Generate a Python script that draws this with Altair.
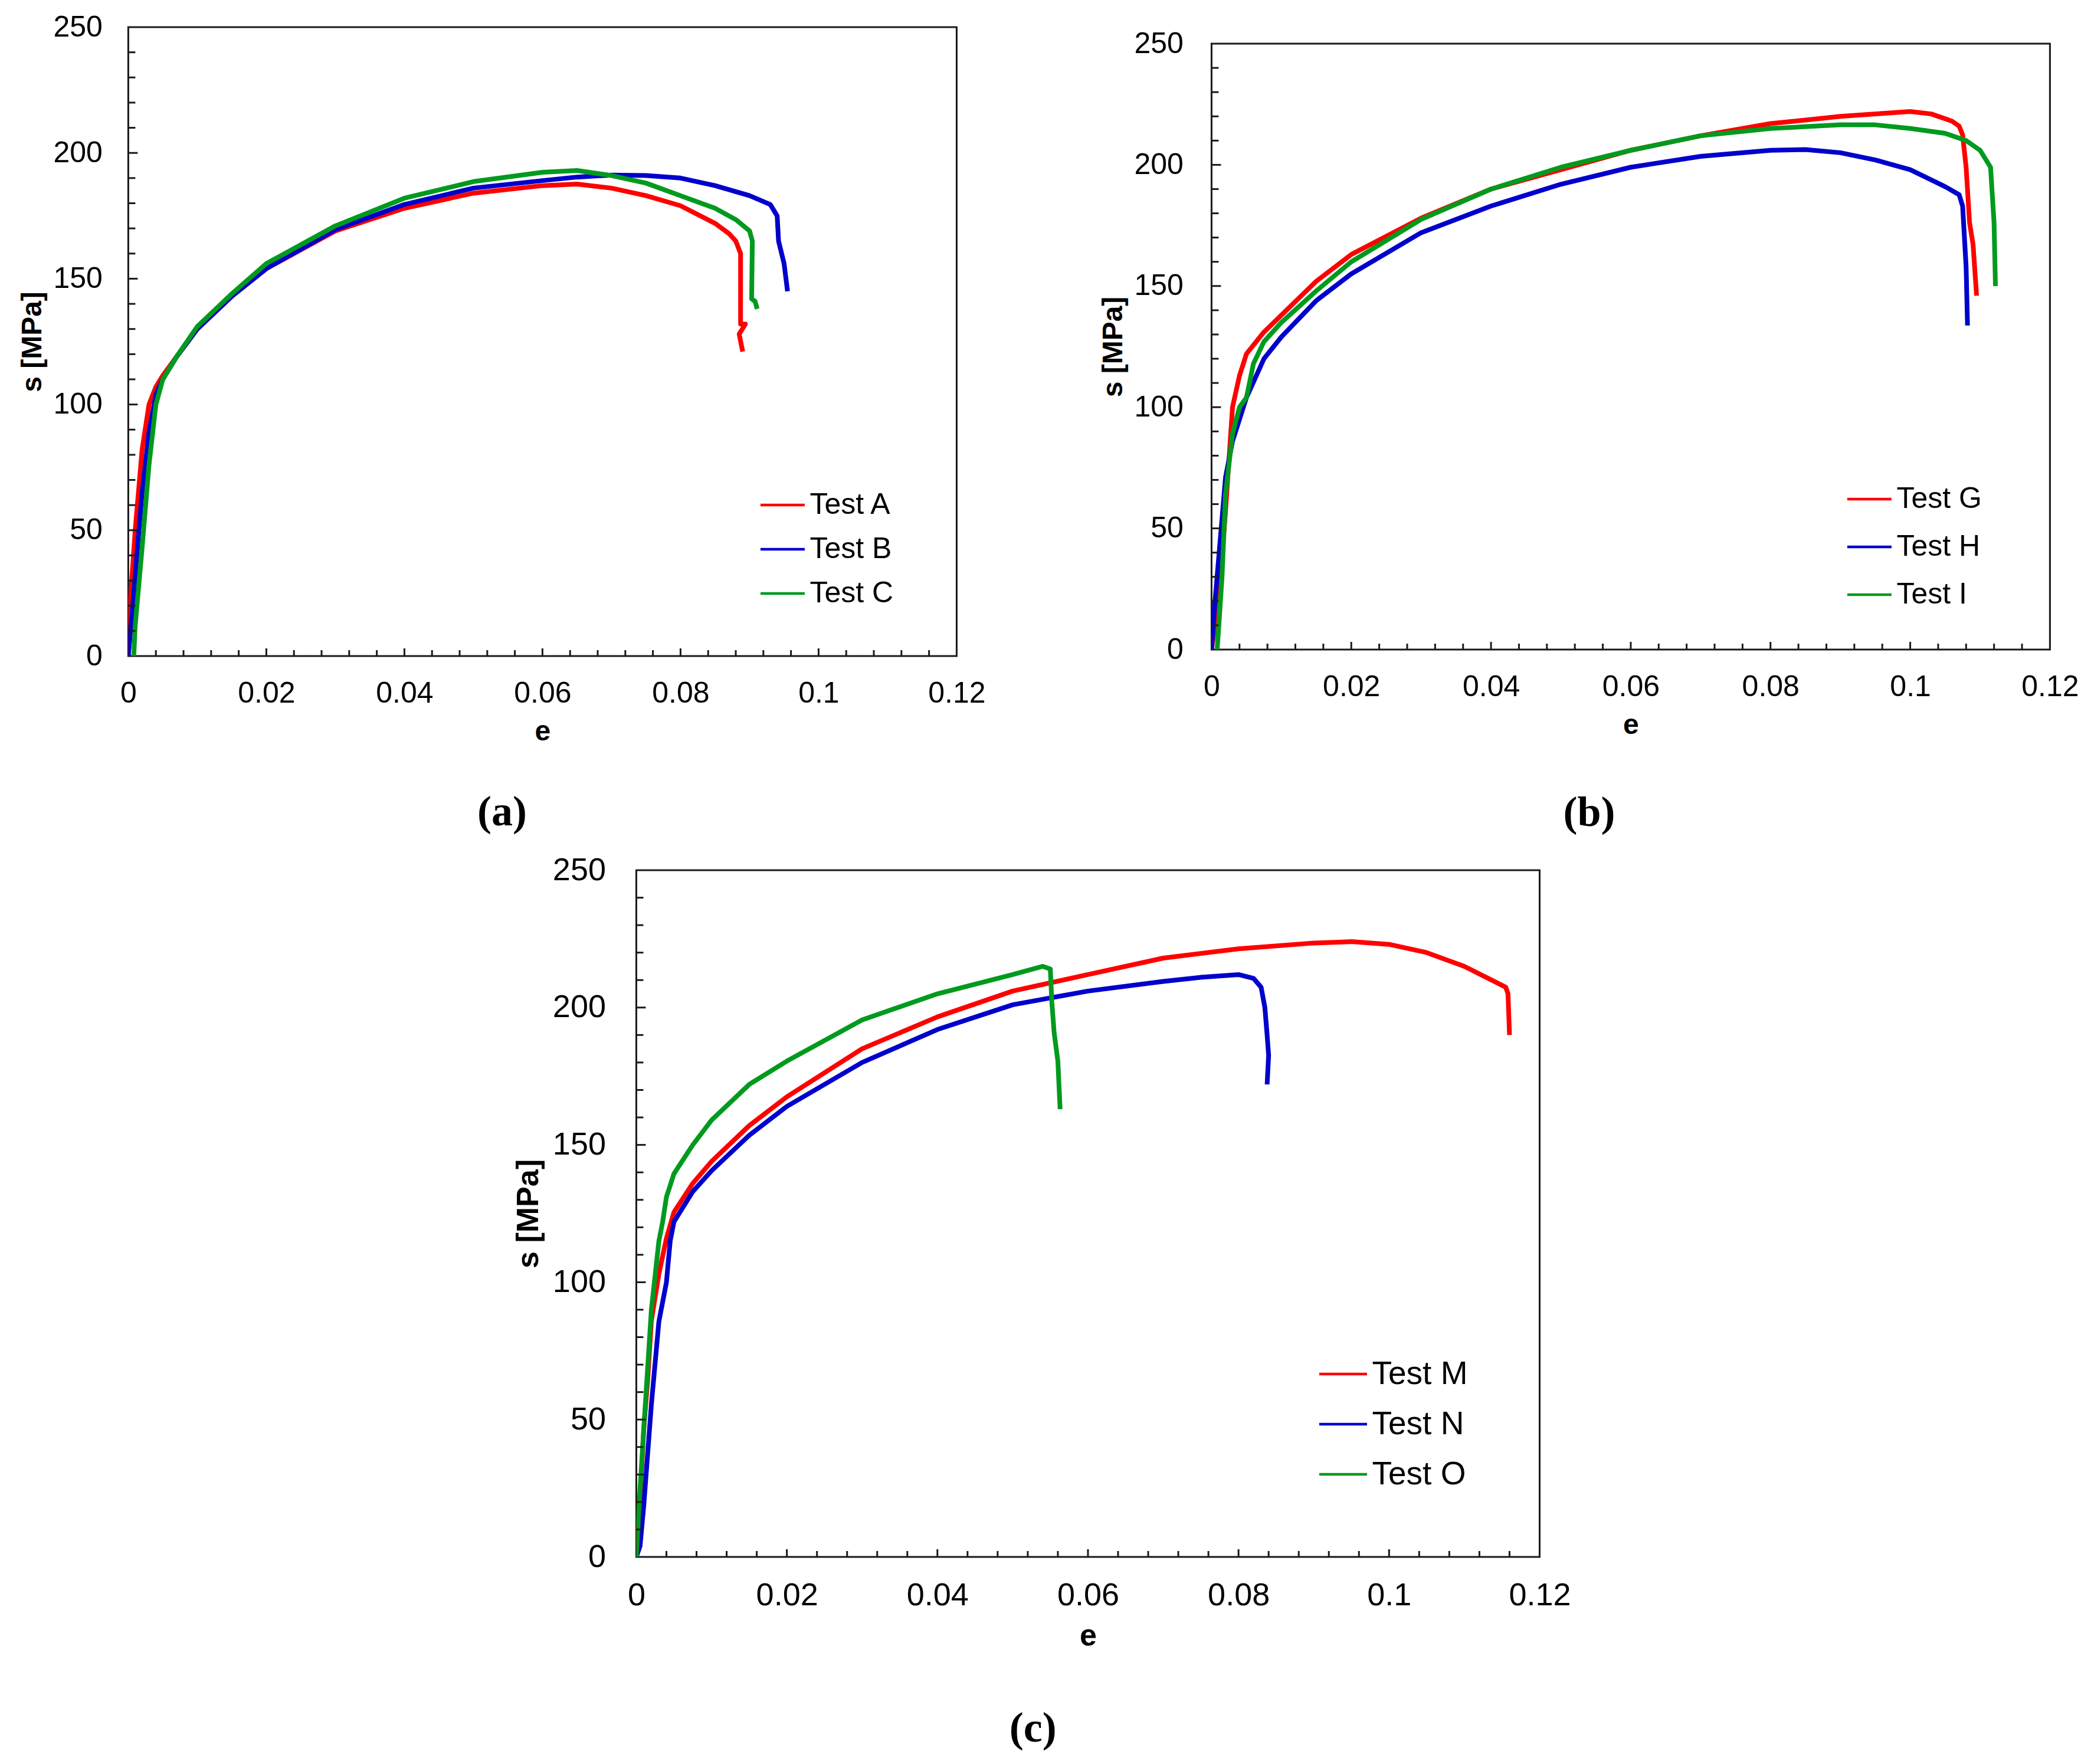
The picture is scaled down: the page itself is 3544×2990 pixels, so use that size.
import altair as alt
import pandas as pd

# ---------------- data ----------------
X_LABELS = [0, 0.02, 0.04, 0.06, 0.08, 0.1, 0.12]
Y_LABELS = [0, 50, 100, 150, 200, 250]
X_MINOR = [0.004, 0.008, 0.012, 0.016, 0.024, 0.028, 0.032, 0.036, 0.044, 0.048,
           0.052, 0.056, 0.064, 0.068, 0.072, 0.076, 0.084, 0.088, 0.092, 0.096,
           0.104, 0.108, 0.112, 0.116]
X_MAJOR = [0.02, 0.04, 0.06, 0.08, 0.1]
Y_MINOR = [10, 20, 30, 40, 60, 70, 80, 90, 110, 120, 130, 140, 160, 170, 180, 190,
           210, 220, 230, 240]
Y_MAJOR = [50, 100, 150, 200]

# panel (a)
NAMES_A = ["Test A", "Test B", "Test C"]
E_A = [0, 0.0003, 0.001, 0.002, 0.003, 0.004, 0.005, 0.007, 0.01, 0.015, 0.02, 0.03,
       0.04, 0.05, 0.06, 0.065, 0.07, 0.075, 0.08, 0.085, 0.087, 0.088, 0.0887,
       0.0887, 0.0894, 0.0885, 0.089]
S_A = [0, 22, 50, 82, 100, 107, 111.5, 119, 130, 143, 154, 169, 178, 184, 187, 187.6,
       186, 183, 179, 172, 168, 165, 160, 132, 132, 128, 121]
E_B = [0, 0.0005, 0.001, 0.002, 0.003, 0.004, 0.005, 0.007, 0.01, 0.015, 0.02, 0.03,
       0.04, 0.05, 0.06, 0.065, 0.07, 0.075, 0.08, 0.085, 0.09, 0.093, 0.094, 0.0942,
       0.095, 0.0955]
S_B = [0, 15, 32, 65, 89, 104, 110, 119, 130, 143, 154, 169.5, 179.5, 186, 189, 190.4,
       191.2, 191, 190, 187, 183, 179.5, 175, 165, 156, 145]
E_C = [0.0008, 0.001, 0.002, 0.003, 0.004, 0.005, 0.007, 0.01, 0.015, 0.02, 0.03, 0.04,
       0.05, 0.06, 0.065, 0.07, 0.075, 0.08, 0.085, 0.088, 0.09, 0.0904, 0.0903,
       0.0908, 0.0911]
S_C = [0, 12, 43, 76, 100, 110, 119, 131, 144, 156, 171, 182, 188.6, 192.3, 193, 191,
       188, 183, 178, 173.5, 169, 165, 142, 141, 138]

# panel (b)
NAMES_B = ["Test G", "Test H", "Test I"]
E_G = [0, 0.0005, 0.001, 0.002, 0.003, 0.004, 0.005, 0.0075, 0.01, 0.015, 0.02, 0.03,
       0.04, 0.05, 0.06, 0.07, 0.08, 0.09, 0.1, 0.103, 0.106, 0.107, 0.1075, 0.108,
       0.1085, 0.109, 0.1095]
S_G = [0, 10, 19, 57, 100, 113, 122, 131, 138, 152, 163, 178, 190, 198, 206, 212, 217,
       220, 222, 221, 218, 216, 212.4, 199, 176, 167, 146]
E_H = [0, 0.0005, 0.001, 0.002, 0.003, 0.004, 0.005, 0.0075, 0.01, 0.015, 0.02, 0.03,
       0.04, 0.05, 0.06, 0.07, 0.08, 0.085, 0.09, 0.095, 0.1, 0.105, 0.107, 0.1075,
       0.108, 0.1082]
S_H = [0, 20, 37, 71, 86, 95, 104, 120, 129, 144, 155, 172, 183, 192, 199, 203.5, 206,
       206.3, 205, 202, 198, 191, 187.7, 183, 158, 133.7]
E_I = [0.0008, 0.001, 0.0015, 0.002, 0.003, 0.004, 0.005, 0.006, 0.0075, 0.01, 0.015,
       0.02, 0.03, 0.04, 0.05, 0.06, 0.07, 0.08, 0.09, 0.095, 0.1, 0.105, 0.108, 0.11,
       0.1115, 0.112, 0.1122]
S_I = [0, 8, 30, 64, 89, 100, 104, 118, 127, 135, 148, 160, 177.5, 190, 199, 206, 212,
       215, 216.5, 216.5, 215, 213, 210, 206, 199, 176, 150]

# panel (c)
NAMES_C = ["Test M", "Test N", "Test O"]
E_M = [0, 0.0005, 0.001, 0.0015, 0.002, 0.003, 0.004, 0.005, 0.0075, 0.01, 0.015, 0.02,
       0.03, 0.04, 0.05, 0.06, 0.07, 0.08, 0.09, 0.095, 0.1, 0.105, 0.11, 0.114, 0.1155,
       0.1158, 0.116]
S_M = [0, 21, 47, 64, 86, 103, 116, 125.5, 136, 144, 157, 167.5, 185, 196.6, 206, 212,
       218, 221.4, 223.5, 224, 223, 220, 215, 209.5, 207.4, 205, 190]
E_N = [0, 0.0005, 0.001, 0.002, 0.003, 0.004, 0.0045, 0.005, 0.0075, 0.01, 0.015, 0.02,
       0.03, 0.04, 0.05, 0.06, 0.07, 0.075, 0.08, 0.082, 0.083, 0.0835, 0.0838, 0.084,
       0.0838]
S_N = [0, 4, 19, 55.5, 85.7, 100, 115, 122, 133, 140.6, 153.5, 164, 180, 192, 201, 206,
       209.5, 211, 212, 210.6, 207.4, 200, 190, 182.6, 172]
E_O = [0, 0.0005, 0.001, 0.002, 0.003, 0.0035, 0.004, 0.005, 0.0075, 0.01, 0.015, 0.02,
       0.03, 0.04, 0.05, 0.054, 0.055, 0.0552, 0.0555, 0.056, 0.0563]
S_O = [0, 25, 47, 90, 115, 122, 131, 139.5, 150, 159, 172, 180.5, 195.5, 205, 212, 215,
       214, 202, 191, 180.5, 163]

COLORS = ["#ff0000", "#0000cc", "#009a1e"]

FONT = "Liberation Sans"
SERIF = "Liberation Serif"
AX = "#1a1a1a"


def make_panel(names, es, ss, w, h, fs, tfs, lfs, legx, legy, rowpad, symlen,
               ylabpad, ytitlepad, label, toffset, left_spacer=None):
    rows = []
    for n, el, sl in zip(names, es, ss):
        for i, (e, s) in enumerate(zip(el, sl)):
            rows.append({"test": n, "e": e, "s": s, "i": i})
    df = pd.DataFrame(rows)
    xs = alt.Scale(domain=[0, 0.12], nice=False, zero=False)
    ys = alt.Scale(domain=[0, 250], nice=False, zero=False)
    xaxis = alt.Axis(
        title="e", values=X_LABELS, labelExpr="format(datum.value, '~g')",
        labelFontSize=fs, titleFontSize=tfs, labelPadding=38, titlePadding=16,
        labelFlush=False, domain=False, ticks=False, tickSize=0, grid=False,
        labelFont=FONT, titleFont=FONT, titleFontWeight="bold", labelColor="black",
        titleColor="black")
    yaxis = alt.Axis(
        title="s [MPa]", values=Y_LABELS, format="d", labelFontSize=fs,
        titleFontSize=tfs, labelPadding=ylabpad, titlePadding=ytitlepad,
        domain=False, ticks=False, tickSize=0, grid=False, labelFont=FONT,
        titleFont=FONT, titleFontWeight="bold", labelColor="black",
        titleColor="black")

    lines = alt.Chart(df).mark_line(strokeWidth=8, clip=True, strokeJoin="round").encode(
        x=alt.X("e:Q", scale=xs, axis=xaxis),
        y=alt.Y("s:Q", scale=ys, axis=yaxis),
        color=alt.Color("test:N", scale=alt.Scale(domain=names, range=COLORS),
                        legend=alt.Legend(
                            title=None, orient="none", legendX=legx, legendY=legy,
                            symbolType="stroke", symbolSize=symlen * symlen,
                            symbolStrokeWidth=4.5, labelFontSize=lfs, labelFont=FONT,
                            labelColor="black", rowPadding=rowpad, labelOffset=6,
                            padding=0, symbolOffset=0, labelLimit=500)),
        order=alt.Order("i:Q"),
    )

    def xrule(vals, length):
        return alt.Chart(pd.DataFrame({"e": vals})).mark_rule(
            color=AX, strokeWidth=3).encode(
            x=alt.X("e:Q", scale=xs, axis=xaxis),
            y=alt.value(h), y2=alt.value(h - length))

    def yrule(vals, length):
        return alt.Chart(pd.DataFrame({"s": vals})).mark_rule(
            color=AX, strokeWidth=3).encode(
            y=alt.Y("s:Q", scale=ys, axis=yaxis),
            x=alt.value(0), x2=alt.value(length))

    layers = [lines, xrule(X_MINOR, 10), xrule(X_MAJOR, 13), yrule(Y_MINOR, 12),
              yrule(Y_MAJOR, 16)]
    if left_spacer is not None:
        layers.append(alt.Chart(pd.DataFrame({"e": [0]})).mark_rule(opacity=0).encode(
            x=alt.value(-left_spacer), y=alt.value(0), y2=alt.value(2)))
    return alt.layer(*layers).properties(
        width=w, height=h,
        title=alt.TitleParams(label, orient="bottom", font=SERIF, fontSize=72,
                              fontWeight="bold", color="black", offset=toffset,
                              frame="bounds", anchor="middle"))


pa = make_panel(NAMES_A, [E_A, E_B, E_C], [S_A, S_B, S_C], 1404, 1066, 50, 48, 50,
                1069, 770, 10, 75, 44, 10, "(a)", 78)
pb = make_panel(NAMES_B, [E_G, E_H, E_I], [S_G, S_H, S_I], 1421, 1027, 50, 48, 50,
                1075, 732, 16, 75, 48, 10, "(b)", 90)
pc = make_panel(NAMES_C, [E_M, E_N, E_O], [S_M, S_N, S_O], 1531, 1164, 54, 52, 55,
                1155, 811, 14, 81, 52, 14, "(c)", 97, left_spacer=239)

# invisible 1-px block that pushes panel (b) slightly lower than panel (a)
gap = alt.Chart(pd.DataFrame({"e": [0]})).mark_rule(opacity=0).encode(
    x=alt.value(0), y=alt.value(0), y2=alt.value(1)
).properties(width=4, height=1, view=alt.ViewBackground(strokeOpacity=0))

pb_box = alt.vconcat(gap, pb, spacing=0).resolve_scale(
    color="independent", x="independent", y="independent")
top = alt.hconcat(pa, pb_box, spacing=190).resolve_scale(
    color="independent", x="independent", y="independent")
chart = alt.vconcat(top, pc, spacing=30, center=True).resolve_scale(
    color="independent", x="independent", y="independent"
).properties(
    padding={"left": 22, "top": 11, "right": 5, "bottom": 5}, background="white"
).configure_view(stroke=AX, strokeWidth=3)

chart.save("out.html", embed_options={"renderer": "svg", "actions": False})
